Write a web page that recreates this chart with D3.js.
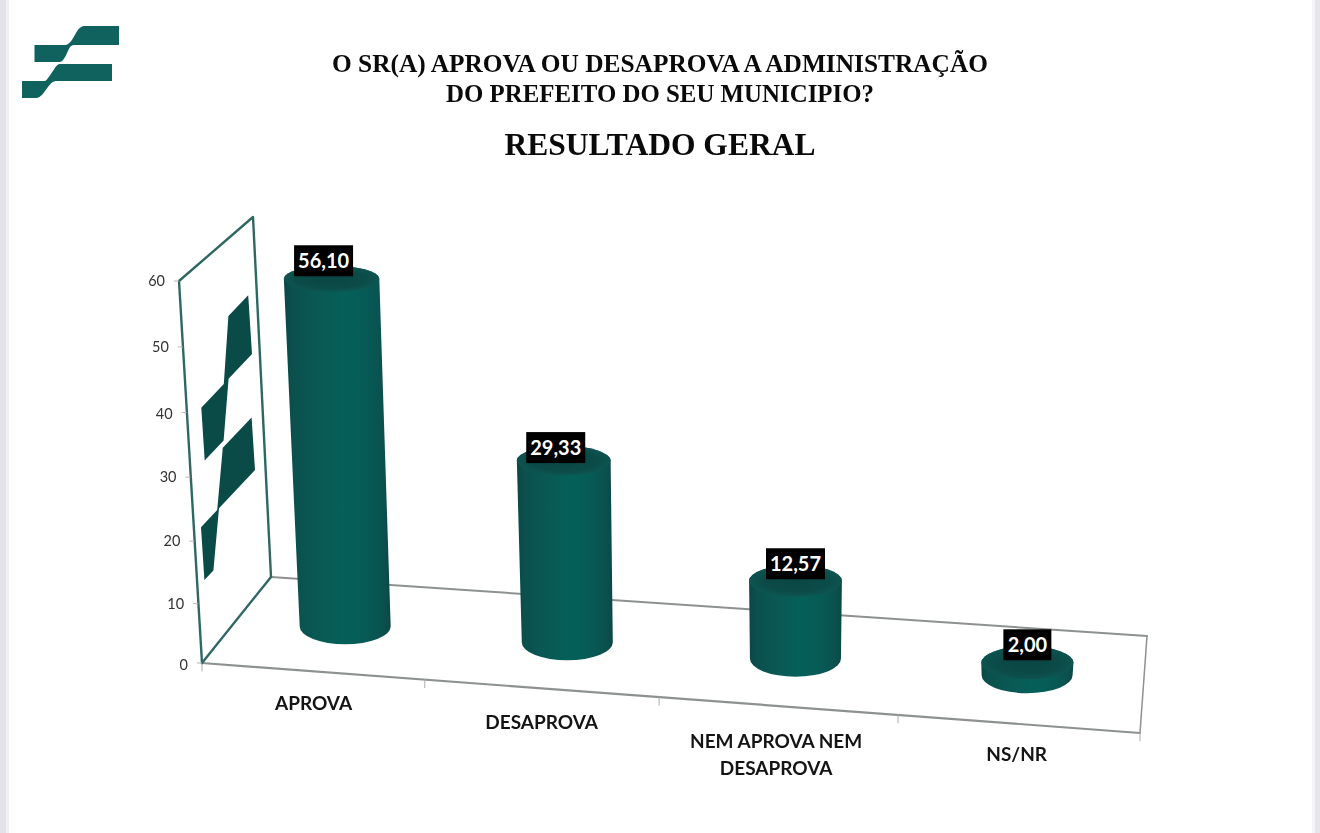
<!DOCTYPE html>
<html><head><meta charset="utf-8">
<script src="https://cdnjs.cloudflare.com/ajax/libs/d3/7.8.5/d3.min.js"></script>
<style>html,body{margin:0;padding:0;background:#fff;overflow:hidden}svg{display:block;filter:blur(0.4px)}</style>
</head><body><svg id="c" width="1320" height="833"></svg>
<script>
const categories = [["APROVA"],["DESAPROVA"],["NEM APROVA NEM","DESAPROVA"],["NS/NR"]];
const values = [56.10,29.33,12.57,2.00];
const valueTicks = [0,10,20,30,40,50,60];
const titleLines = ["O SR(A) APROVA OU DESAPROVA A ADMINISTRAÇÃO","DO PREFEITO DO SEU MUNICIPIO?"];
const subtitle = "RESULTADO GERAL";

const svg = d3.select("#c");
const defs = svg.append("defs");
const WALL="#2f6763", GREY="#8d9190";
const valueLabelDy=[-18,-13,-17,-18];
const catDx=[3,0.5,-2,-2], catDy=[0,2,3,-2];

// page edges
svg.append("rect").attr("width",6).attr("height",833).attr("fill","#e2e2e8");
svg.append("rect").attr("x",6).attr("width",3).attr("height",833).attr("fill","#f1f1f4");
svg.append("rect").attr("x",1312).attr("width",3).attr("height",833).attr("fill","#f4f4f6");
svg.append("rect").attr("x",1315).attr("width",5).attr("height",833).attr("fill","#e6e6ea");

// titles
const serif="'Liberation Serif','Times New Roman',serif";
svg.append("g").selectAll("text").data(titleLines).join("text")
  .attr("x",660).attr("y",(d,i)=>72+i*30).attr("text-anchor","middle")
  .attr("font-family",serif).attr("font-weight",700).attr("font-size",25).attr("fill","#0a0a0a")
  .attr("textLength",(d,i)=>i?428:656).attr("lengthAdjust","spacingAndGlyphs").text(d=>d);
svg.append("text").attr("x",660).attr("y",154.5).attr("text-anchor","middle")
  .attr("font-family",serif).attr("font-weight",700).attr("font-size",32.5).attr("fill","#0a0a0a")
  .attr("textLength",311).attr("lengthAdjust","spacingAndGlyphs").text(subtitle);

// logo
const logoTop="M119,26 L85,26 C81,26 79,28 76,33 C73,38 70,45 65,45 L34.5,45 L34.5,62 L60,62 C64,62 67,52 70,47 C71,46 72,45 74,45 L119,45 Z";
const logoLow="M112,64 L60,64 C56,64 53,72 48,78 C46,81 45,81 43,81 L22,81 L22,98 L36,98 C41,98 44,92 48,87 C51,83 53,81 57,81 L112,81 Z";
const logo=svg.append("g").attr("fill","#0f625d");
logo.append("path").attr("d",logoTop); logo.append("path").attr("d",logoLow);
const wallTop="M119,26 L86,26 L72,45 L34.5,45 L34.5,62 L66,62 L80,45 L119,45 Z";
const wallLow="M112,64 L64,64 L49,81 L22,81 L22,98 L37,98 L52,81 L112,81 Z";
const wallLogo=svg.append("g").attr("fill","#0a4a47").attr("transform","matrix(0.6,-0.635,0.2,3.1,171.6,290.1)");
wallLogo.append("path").attr("d",wallTop); wallLogo.append("path").attr("d",wallLow);

// projection scales
const catFrac = d3.scalePow().exponent(1.037).domain([0,categories.length]).range([0,1]);
const frontX = d3.scaleLinear().domain([0,1]).range([202,1140]);
const frontY = d3.scaleLinear().domain([0,1]).range([663,733]);
const backX  = d3.scaleLinear().domain([0,1]).range([271,1147]);
const backY  = d3.scaleLinear().domain([0,1]).range([577,636]);
const floorPt = (u,dx,dy=dx)=>{const f=catFrac(u);
  return [frontX(f)+(backX(f)-frontX(f))*dx, frontY(f)+(backY(f)-frontY(f))*dy];};
const wallY = d3.scalePow().exponent(1.04).domain([0,60]).range([663,281]);
const wallX = d3.scaleLinear().domain([0,60]).range([202,179]);
const wallBackY = d3.scaleLinear().domain([0,60]).range([577,217]);
const wallBackX = d3.scaleLinear().domain([0,60]).range([271,253]);
const barH = d3.scaleLinear().domain([0,60]).range([0,372]);
const topRy = d3.scaleLinear().domain([280,662]).range([13,16.5]);

// floor
const line=(g,a,b,c,w)=>g.append("line").attr("x1",a[0]).attr("y1",a[1]).attr("x2",b[0]).attr("y2",b[1]).attr("stroke",c).attr("stroke-width",w);
const frame=svg.append("g").attr("stroke-linecap","round");
const n=categories.length;
line(frame,floorPt(0,1),floorPt(n,1),GREY,2);
line(frame,floorPt(n,1),floorPt(n,0),GREY,1.5);
line(frame,floorPt(0,0),floorPt(n,0),GREY,2.2);
d3.range(n+1).forEach(i=>{const p=floorPt(i,0);line(frame,p,[p[0],p[1]+8],"#a9adac",1);});

// wall
const wall=[[wallX(0),wallY(0)],[wallX(60),wallY(60)],[wallBackX(60),wallBackY(60)],[wallBackX(0),wallBackY(0)],[wallX(0),wallY(0)]];
frame.append("path").attr("d",d3.line()(wall)).attr("fill","none").attr("stroke",WALL).attr("stroke-width",2.4).attr("stroke-linejoin","round");

// value axis
const ax=svg.append("g").attr("font-family","Lato,sans-serif").attr("font-size",14.5).attr("fill","#333");
ax.selectAll("text").data(valueTicks).join("text")
  .attr("x",v=>wallX(v)-14).attr("y",v=>wallY(v)+5+(v===0?2:0)+(v===40?1.5:0)).attr("text-anchor","end").text(v=>v);
ax.selectAll("line").data(valueTicks).join("line")
  .attr("x1",v=>wallX(v)-5).attr("x2",v=>wallX(v)).attr("y1",v=>wallY(v)).attr("y2",v=>wallY(v)).attr("stroke","#b5b8b7");

// cylinders
const grad=defs.append("linearGradient").attr("id","side").attr("x1",0).attr("x2",1).attr("y1",0).attr("y2",0);
[[0,"#0a4745"],[0.08,"#0b504d"],[0.3,"#0a5854"],[0.55,"#056059"],[0.78,"#075a56"],[0.94,"#0b504d"],[1,"#0a4745"]]
  .forEach(s=>grad.append("stop").attr("offset",s[0]).attr("stop-color",s[1]));
const capGrad=defs.append("radialGradient").attr("id","cap");
[[0,"#0a4644"],[0.7,"#0b4b48"],[1,"#0e5450"]].forEach(s=>capGrad.append("stop").attr("offset",s[0]).attr("stop-color",s[1]));

const bars=values.map((v,i)=>{
  const b=floorPt(i+0.5,0.56,0.51), h=barH(v);
  const tx=b[0]+(b[0]-790)*h*8.8e-5, ty=b[1]-h;
  const tr=46+h*0.005, br=45.5, ry=topRy(ty), rb=Math.min(18,topRy(b[1])+1.5);
  return {v,i,bx:b[0],by:b[1],tx,ty,tr,br,ry,rb};
});
const bg=svg.append("g");
bg.selectAll("path.side").data(bars).join("path").attr("class","side")
  .attr("fill","url(#side)")
  .attr("d",d=>`M${d.tx-d.tr},${d.ty} L${d.bx-d.br},${d.by} A${d.br},${d.rb} 0 0 0 ${d.bx+d.br},${d.by} L${d.tx+d.tr},${d.ty} A${d.tr},${d.ry} 0 0 0 ${d.tx-d.tr},${d.ty} Z`);
bg.selectAll("ellipse").data(bars).join("ellipse")
  .attr("cx",d=>d.tx).attr("cy",d=>d.ty).attr("rx",d=>d.tr).attr("ry",d=>d.ry).attr("fill","url(#cap)");

// data labels
const comma=d=>d.toFixed(2).replace(".",",");
const lab=svg.append("g").selectAll("g").data(bars).join("g")
  .attr("transform",d=>`translate(${d.tx+(d.i<2?-8:0)},${d.ty+valueLabelDy[d.i]})`);
lab.append("rect").attr("x",d=>d.v<10?-24:-29.5).attr("y",-15.5).attr("width",d=>d.v<10?48:59).attr("height",31).attr("fill","#000");
lab.append("text").attr("text-anchor","middle").attr("y",7).attr("font-family","Lato,sans-serif").attr("font-weight",700)
  .attr("font-size",20).attr("fill","#fff").text(d=>comma(d.v));

// category labels
const cg=svg.append("g").attr("font-family","Lato,sans-serif").attr("font-weight",700).attr("font-size",19).attr("fill","#141414");
categories.forEach((lines,i)=>{
  const p=floorPt(i+0.5,0);
  lines.forEach((t,k)=>cg.append("text").attr("x",p[0]+catDx[i]).attr("y",p[1]+39+catDy[i]+k*27).attr("text-anchor","middle").text(t));
});
</script></body></html>
